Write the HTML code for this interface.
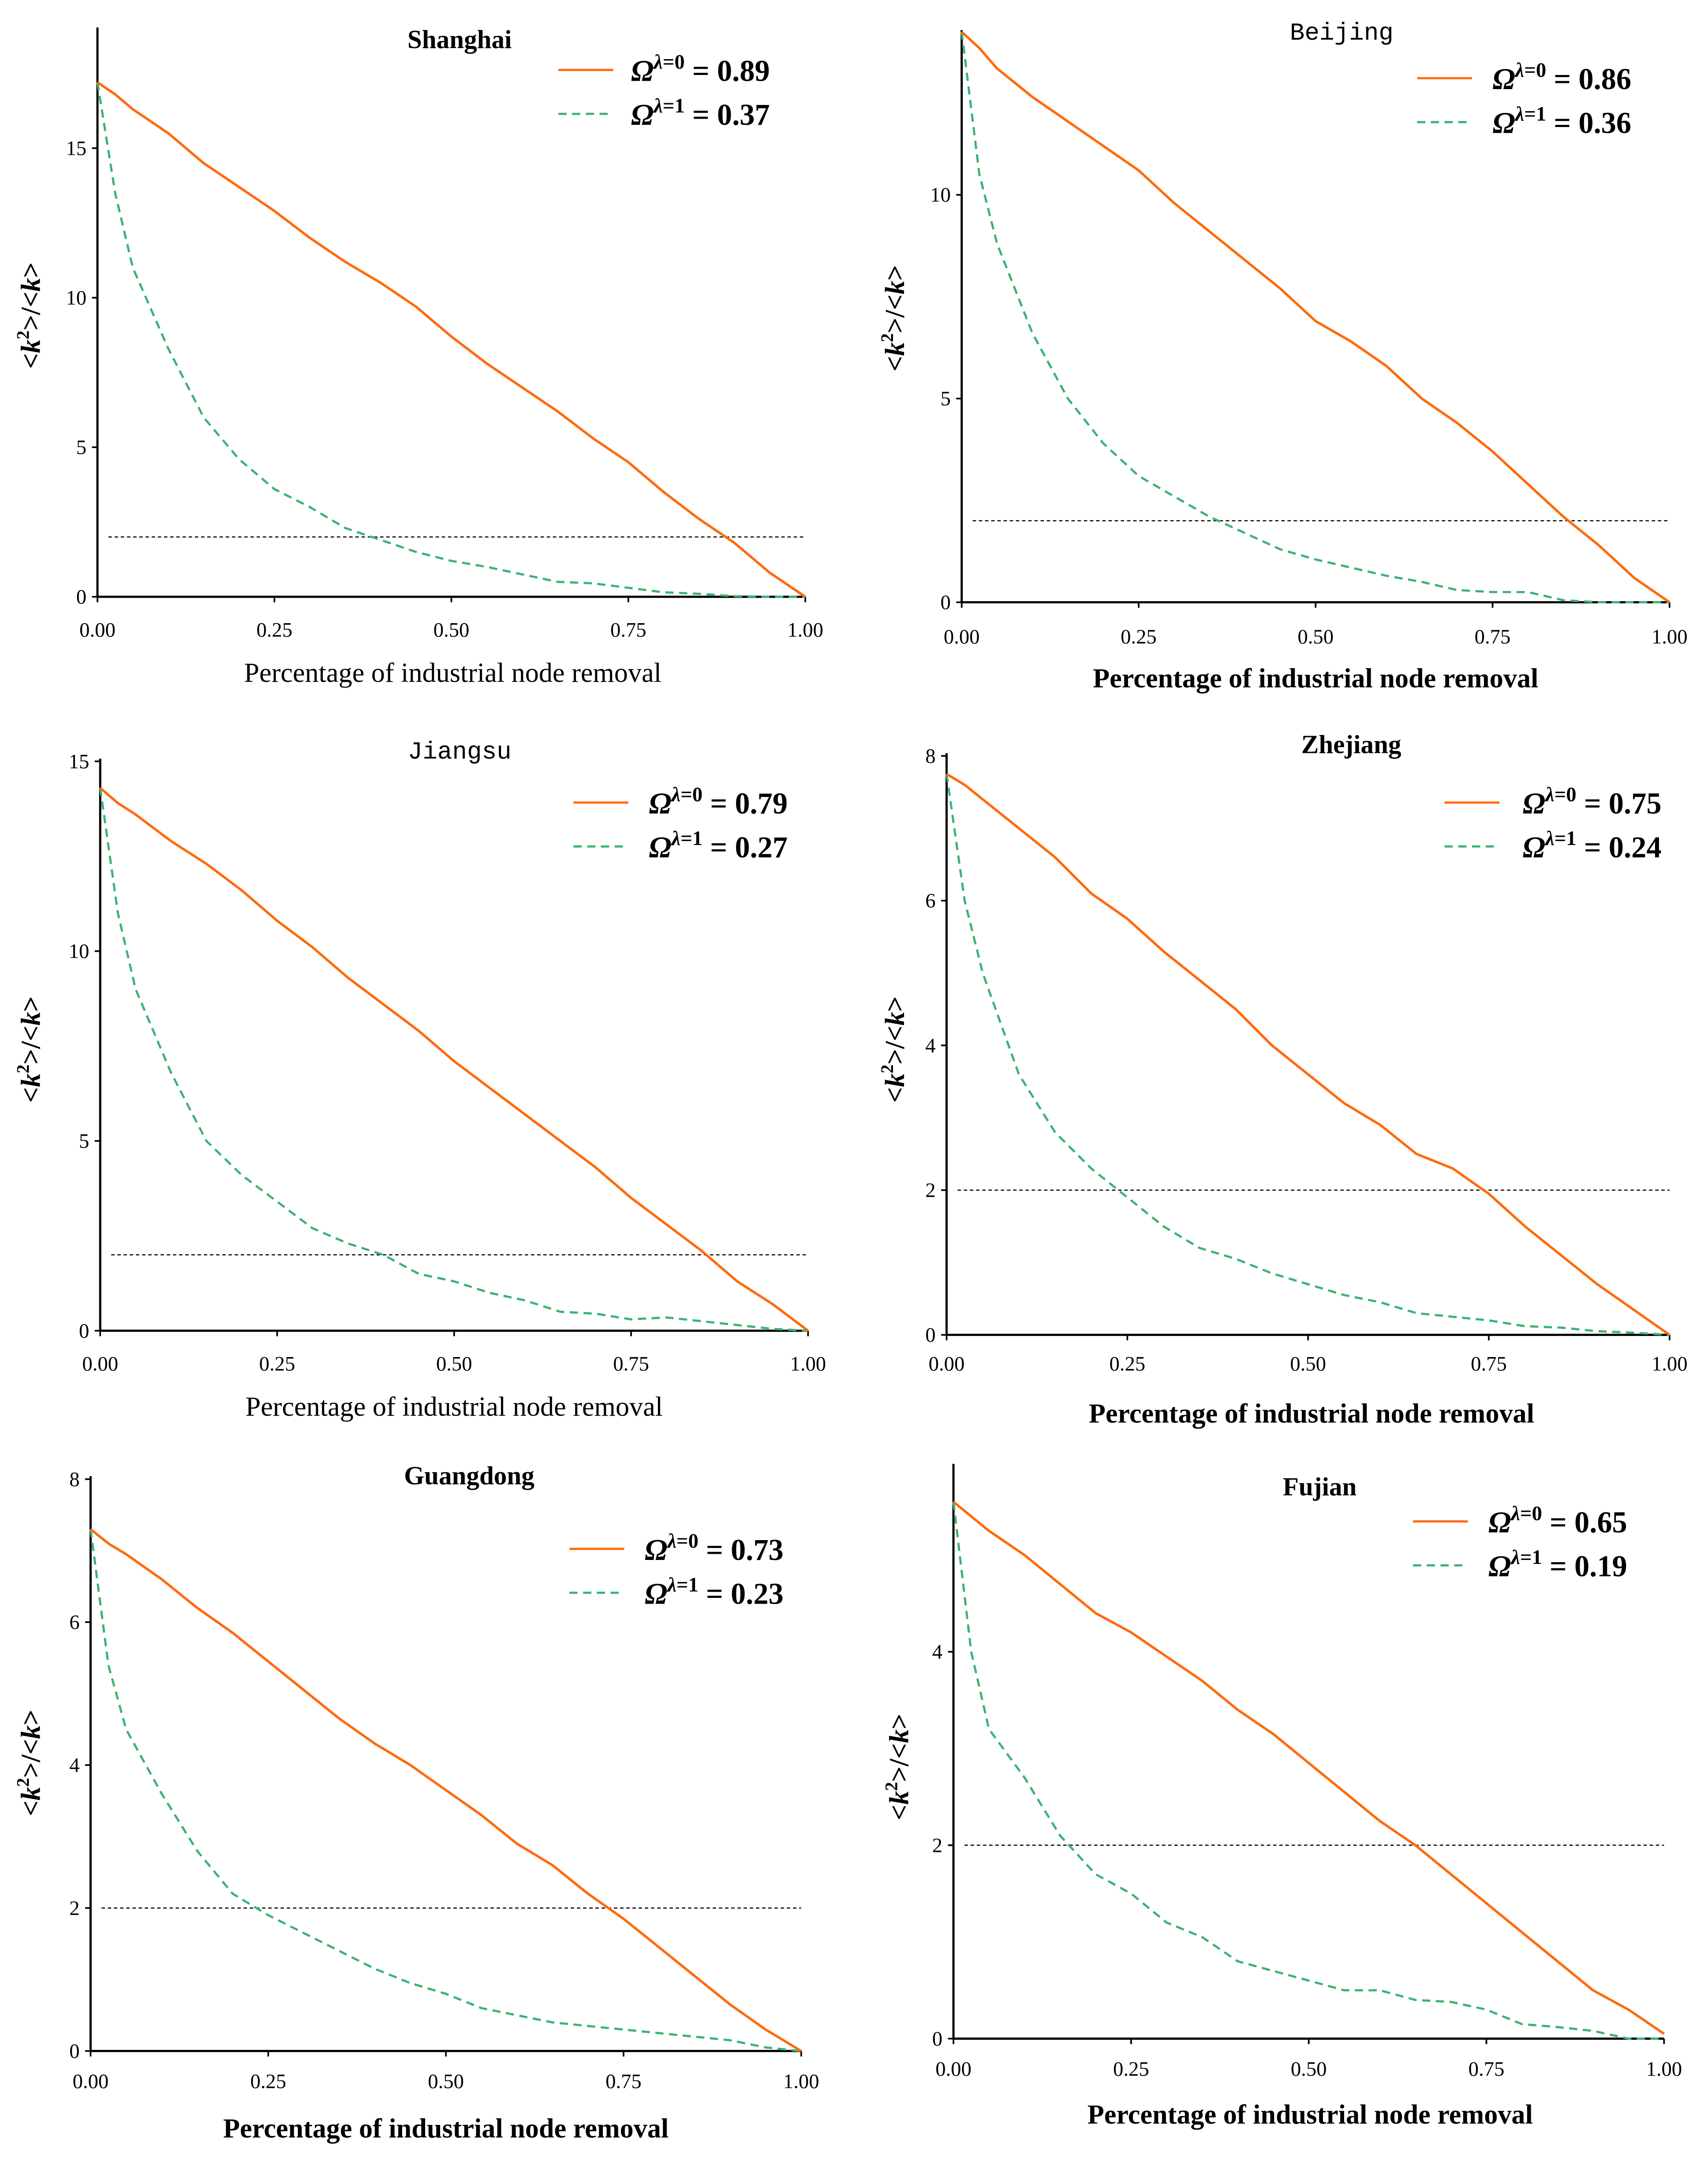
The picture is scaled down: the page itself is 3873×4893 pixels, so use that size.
<!DOCTYPE html>
<html><head><meta charset="utf-8"><style>html,body{margin:0;padding:0;background:#fff}svg{display:block}</style></head>
<body>
<svg id="fig" width="3873" height="4893" viewBox="0 0 1245 1573" xmlns="http://www.w3.org/2000/svg" font-family="'Liberation Serif', serif"></svg>
<script>
const xs = [0,0.025,0.05,0.1,0.15,0.2,0.25,0.3,0.35,0.4,0.45,0.5,0.55,0.6,0.65,0.7,0.75,0.8,0.85,0.9,0.95,1];
const shanghaiOrange = [17.2,16.8,16.3,15.5,14.5,13.7,12.9,12.0,11.2,10.5,9.7,8.7,7.8,7.0,6.2,5.3,4.5,3.5,2.6,1.8,0.8,0];
const shanghaiGreen  = [17.2,13.5,11.0,8.3,6.0,4.6,3.6,3.0,2.3,1.9,1.5,1.2,1.0,0.75,0.5,0.45,0.3,0.15,0.1,0.02,0,0];
const beijingOrange  = [14.0,13.6,13.1,12.4,11.8,11.2,10.6,9.8,9.1,8.4,7.7,6.9,6.4,5.8,5.0,4.4,3.7,2.9,2.1,1.4,0.6,0];
const beijingGreen   = [14.0,10.5,8.8,6.6,5.0,3.9,3.1,2.6,2.1,1.7,1.3,1.05,0.85,0.65,0.5,0.3,0.25,0.25,0.05,0,0,0];
const jiangsuOrange  = [14.3,13.9,13.6,12.9,12.3,11.6,10.8,10.1,9.3,8.6,7.9,7.1,6.4,5.7,5.0,4.3,3.5,2.8,2.1,1.3,0.7,0];
const jiangsuGreen   = [14.3,11.0,9.0,6.8,5.0,4.1,3.4,2.7,2.3,2.0,1.5,1.3,1.0,0.8,0.5,0.45,0.3,0.35,0.25,0.15,0.05,0];
const zhejiangOrange = [7.75,7.6,7.4,7.0,6.6,6.1,5.75,5.3,4.9,4.5,4.0,3.6,3.2,2.9,2.5,2.3,1.95,1.5,1.1,0.7,0.35,0];
const zhejiangGreen  = [7.75,6.0,5.0,3.6,2.8,2.3,1.9,1.5,1.2,1.05,0.85,0.7,0.55,0.45,0.3,0.25,0.2,0.12,0.1,0.05,0.03,0];
const guangdongOrange= [7.3,7.1,6.95,6.6,6.2,5.85,5.45,5.05,4.65,4.3,4.0,3.65,3.3,2.9,2.6,2.2,1.85,1.45,1.05,0.65,0.3,0];
const guangdongGreen = [7.3,5.4,4.5,3.6,2.8,2.2,1.9,1.65,1.4,1.15,0.95,0.8,0.6,0.5,0.4,0.35,0.3,0.25,0.2,0.15,0.05,0];
const fujianOrange   = [5.55,5.4,5.25,5.0,4.7,4.4,4.2,3.95,3.7,3.4,3.15,2.85,2.55,2.25,2.0,1.7,1.4,1.1,0.8,0.5,0.3,0.05];
const fujianGreen    = [5.55,4.0,3.2,2.7,2.1,1.7,1.5,1.2,1.05,0.8,0.7,0.6,0.5,0.5,0.4,0.38,0.3,0.15,0.12,0.08,0,0];
const xTickLabels = ["0.00","0.25","0.50","0.75","1.00"];
const xTickValues = [0,0.25,0.5,0.75,1];
const omegaValues = ["0.89","0.37","0.86","0.36","0.79","0.27","0.75","0.24","0.73","0.23","0.65","0.19"];

const panels = [
 {name:"shanghai",title:"Shanghai",mono:false,x0:71,x1:587,y0:435,yTop:20,ppu:21.8,yt:[0,5,10,15],o:shanghaiOrange,g:shanghaiGreen,t:[335,28],lg:[407,51,460],tickY:458,xl:[330,490],xlBold:false,yl:[22,230],om:[0,1]},
 {name:"beijing",title:"Beijing",mono:true,x0:701,x1:1217,y0:439,yTop:22,ppu:29.7,yt:[0,5,10],o:beijingOrange,g:beijingGreen,t:[978,22],lg:[1033,57,1088],tickY:463,xl:[959,494],xlBold:true,yl:[652,232],om:[2,3]},
 {name:"jiangsu",title:"Jiangsu",mono:true,x0:73,x1:589,y0:970,yTop:553,ppu:27.67,yt:[0,5,10,15],o:jiangsuOrange,g:jiangsuGreen,t:[335,546],lg:[418,585,473],tickY:993,xl:[331,1025],xlBold:false,yl:[22,765],om:[4,5]},
 {name:"zhejiang",title:"Zhejiang",mono:false,x0:690,x1:1217,y0:973,yTop:549,ppu:52.75,yt:[0,2,4,6,8],o:zhejiangOrange,g:zhejiangGreen,t:[985,542],lg:[1053,585,1110],tickY:993,xl:[956,1030],xlBold:true,yl:[652,765],om:[6,7]},
 {name:"guangdong",title:"Guangdong",mono:false,x0:66,x1:584,y0:1495,yTop:1076,ppu:52.1,yt:[0,2,4,6,8],o:guangdongOrange,g:guangdongGreen,t:[342,1075],lg:[415,1129,470],tickY:1516,xl:[325,1551],xlBold:true,yl:[22,1285],om:[8,9]},
 {name:"fujian",title:"Fujian",mono:false,x0:695,x1:1213,y0:1486,yTop:1067,ppu:70.5,yt:[0,2,4],o:fujianOrange,g:fujianGreen,t:[962,1083],lg:[1030,1109,1085],tickY:1507,xl:[955,1541],xlBold:true,yl:[655,1288],om:[10,11]}
];
const NS="http://www.w3.org/2000/svg";
const svg=document.getElementById('fig');
function mk(tag,attrs,parent){const e=document.createElementNS(NS,tag);for(const k in attrs)e.setAttribute(k,attrs[k]);parent.appendChild(e);return e;}
panels.forEach(p=>{
  const g=mk('g',{},svg);
  
  
  const sx=v=>p.x0+v*(p.x1-p.x0);
  const sy=v=>p.y0-v*p.ppu;
  const ya=mk('line',{x1:p.x0,y1:p.yTop,x2:p.x0,y2:p.y0,stroke:'#000','stroke-width':1.6},g);
  
  
  const xa=mk('line',{x1:p.x0,y1:p.y0,x2:p.x1,y2:p.y0,stroke:'#000','stroke-width':1.6},g);
  
  
  xTickValues.forEach((v,i)=>{
    mk('line',{x1:sx(v),y1:p.y0,x2:sx(v),y2:p.y0+4,stroke:'#000','stroke-width':1.2},g);
    const t=mk('text',{x:sx(v),y:p.tickY+6,'font-size':15,'text-anchor':'middle'},g);
    t.textContent=xTickLabels[i];
    
    
  });
  p.yt.forEach(v=>{
    mk('line',{x1:p.x0-4,y1:sy(v),x2:p.x0,y2:sy(v),stroke:'#000','stroke-width':1.2},g);
    const t=mk('text',{x:p.x0-8,y:sy(v)+5,'font-size':15,'text-anchor':'end'},g);
    t.textContent=String(v);
    
    
  });
  const th=mk('line',{x1:p.x0+8,y1:sy(2),x2:p.x1,y2:sy(2),stroke:'#000','stroke-width':0.8,'stroke-dasharray':'2.5,2'},g);
  
  
  const pts=arr=>arr.map((v,i)=>sx(xs[i]).toFixed(2)+','+sy(v).toFixed(2)).join(' ');
  const gl=mk('polyline',{points:pts(p.g),fill:'none',stroke:'#3cb371','stroke-width':1.6,'stroke-dasharray':'6,4'},g);
  
  
  const ol=mk('polyline',{points:pts(p.o),fill:'none',stroke:'#ff6a0d','stroke-width':1.8},g);
  
  
  const tt=mk('text',{x:p.t[0],y:p.t[1]+7,'font-size':p.mono?18:19,'font-weight':p.mono?'normal':'bold','text-anchor':'middle','font-family':p.mono?"'Liberation Mono', monospace":"'Liberation Serif', serif"},g);
  tt.textContent=p.title;
  
  
  [0,1].forEach(k=>{
    const ly=p.lg[1]+k*32;
    mk('line',{x1:p.lg[0],y1:ly,x2:p.lg[0]+40,y2:ly,stroke:k?'#3cb371':'#ff6a0d','stroke-width':1.6,'stroke-dasharray':k?'6,4':'none'},g);
    const t=mk('text',{x:p.lg[2],y:ly+8,'font-size':22,'font-weight':'bold'},g);
    t.innerHTML='<tspan font-style="italic">Ω</tspan><tspan font-size="15" dy="-9" font-style="italic">λ</tspan><tspan font-size="15">='+k+'</tspan><tspan dy="9"> = '+omegaValues[p.om[k]]+'</tspan>';
    
    
  });
  const xl=mk('text',{x:p.xl[0],y:p.xl[1]+7,'font-size':20,'font-weight':p.xlBold?'bold':'normal','text-anchor':'middle'},g);
  xl.textContent='Percentage of industrial node removal';
  
  
  const yl=mk('text',{x:0,y:0,'font-size':20,'font-weight':'bold','text-anchor':'middle',transform:'translate('+(p.yl[0]+7)+','+p.yl[1]+') rotate(-90)'},g);
  yl.innerHTML='&lt;<tspan font-style="italic">k</tspan><tspan font-size="13" dy="-8">2</tspan><tspan dy="8">&gt;/&lt;</tspan><tspan font-style="italic">k</tspan>&gt;';
  
  
});
</script>
</body></html>
